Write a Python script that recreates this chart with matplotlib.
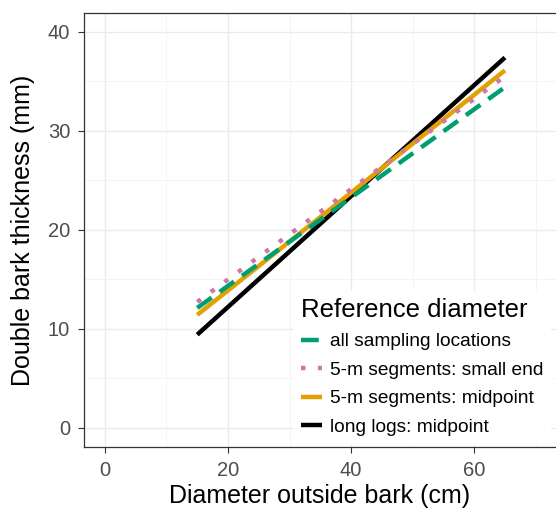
import matplotlib.pyplot as plt

plt.rcParams['font.family'] = ['Liberation Sans', 'DejaVu Sans']

# fitted lines, read at the two ends (dob 15 and 65 cm)
dob = [15, 65]
all_loc = [12.1, 34.4]
seg_small = [12.7, 35.5]
seg_mid = [11.4, 36.1]
long_mid = [9.4, 37.4]

labels = ['all sampling locations', '5-m segments: small end',
          '5-m segments: midpoint', 'long logs: midpoint']

fig = plt.figure(figsize=(5.56, 5.15), dpi=100)
ax = fig.add_axes([84 / 556, 68 / 515, 1 - 84 / 556, 434 / 515])

h4, = ax.plot(dob, long_mid, color='black', lw=3.2, solid_capstyle='butt', zorder=3)
h3, = ax.plot(dob, seg_mid, color='#E69F00', lw=3.2, solid_capstyle='butt', zorder=4)
h1, = ax.plot(dob, all_loc, color='#009E73', lw=3.2, dashes=(4, 2.2), dash_capstyle='butt', zorder=5)
h2, = ax.plot(dob, seg_small, color='#CC79A7', lw=3.2, dashes=(1, 2.8), dash_capstyle='butt', zorder=6)

ax.set_xlim(-3.4, 73.3)
ax.set_ylim(-1.95, 41.9)
ax.set_xticks([0, 20, 40, 60])
ax.set_xticks([10, 30, 50, 70], minor=True)
ax.set_yticks([0, 10, 20, 30, 40])
ax.set_yticks([5, 15, 25, 35], minor=True)
ax.grid(True, which='major', color='#EBEBEB', lw=1.0)
ax.grid(True, which='minor', color='#F3F3F3', lw=0.6)
ax.set_axisbelow(True)
ax.tick_params(which='minor', length=0)
ax.tick_params(which='major', length=4, color='#333333', labelsize=14.5,
               labelcolor='#4D4D4D', width=0.8, pad=6)
for s in ax.spines.values():
    s.set_color('#333333')
    s.set_linewidth(0.9)
ax.spines['right'].set_visible(False)

ax.set_xlabel('Diameter outside bark (cm)', fontsize=18, labelpad=3)
ax.set_ylabel('Double bark thickness (mm)', fontsize=18, labelpad=9)

leg = ax.legend([h1, h2, h3, h4], labels, title='Reference diameter',
                loc='lower left', bbox_to_anchor=(0.425, -0.012),
                fontsize=13.8, title_fontsize=18.5, frameon=True, fancybox=False,
                edgecolor='white', facecolor='white', framealpha=1,
                handlelength=1.1, handletextpad=0.4, labelspacing=0.58,
                borderpad=0.35)
leg._legend_box.align = 'left'

fig.savefig('out.png', dpi=100)
